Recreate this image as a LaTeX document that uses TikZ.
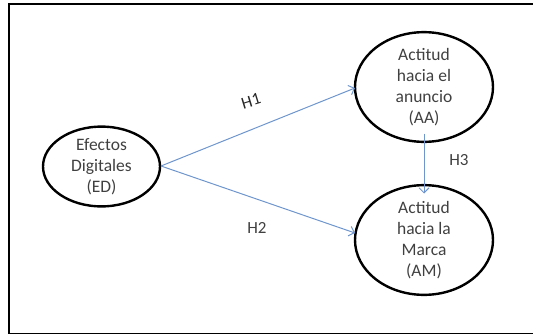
\documentclass[tikz,border=0pt]{standalone}
\usepackage{fontspec}
\setmainfont{Carlito}
\usetikzlibrary{arrows.meta,shapes.geometric}
\definecolor{arrowblue}{RGB}{110,150,205}
\definecolor{txtgray}{RGB}{64,64,64}
\begin{document}
\begin{tikzpicture}[x=1pt,y=-1pt,
  construct/.style={draw=black,line width=2.4pt,ellipse,inner sep=0pt,
    align=center,text=txtgray,font=\fontsize{17.5}{21}\selectfont},
  link/.style={draw=arrowblue,line width=1pt,-{Straight Barb[length=5pt,width=10pt]}},
  hyp/.style={text=txtgray,font=\fontsize{17}{19}\selectfont}]
\useasboundingbox (0,0) rectangle (533,335);
\draw[line width=1.8pt] (534,4) -- (9,4) -- (9,333.5) -- (534,333.5);
\node[construct,minimum width=117pt,minimum height=79pt] (ed) at (101.5,166.5) {Efectos\\Digitales\\(ED)};
\node[construct,minimum width=138pt,minimum height=92pt] (aa) at (424,87) {Actitud\\hacia el\\anuncio\\(AA)};
\node[construct,minimum width=138pt,minimum height=93pt] (am) at (424,240) {Actitud\\hacia la\\Marca\\(AM)};
\coordinate (edr) at (161,166);
\coordinate (aal) at (355,88);
\coordinate (aml) at (355,233);
\coordinate (aab) at (424,133.5);
\coordinate (amt) at (424,193.5);
\draw[link] (edr) -- (aal);
\draw[link] (edr) -- (aml);
\draw[link] (aab) -- (amt);
\node[hyp,text=black!85,rotate=17] (h1) at (251,101) {H1};
\node[hyp] (h2) at (257,228) {H2};
\node[hyp] (h3) at (459,160) {H3};
\end{tikzpicture}
\end{document}
